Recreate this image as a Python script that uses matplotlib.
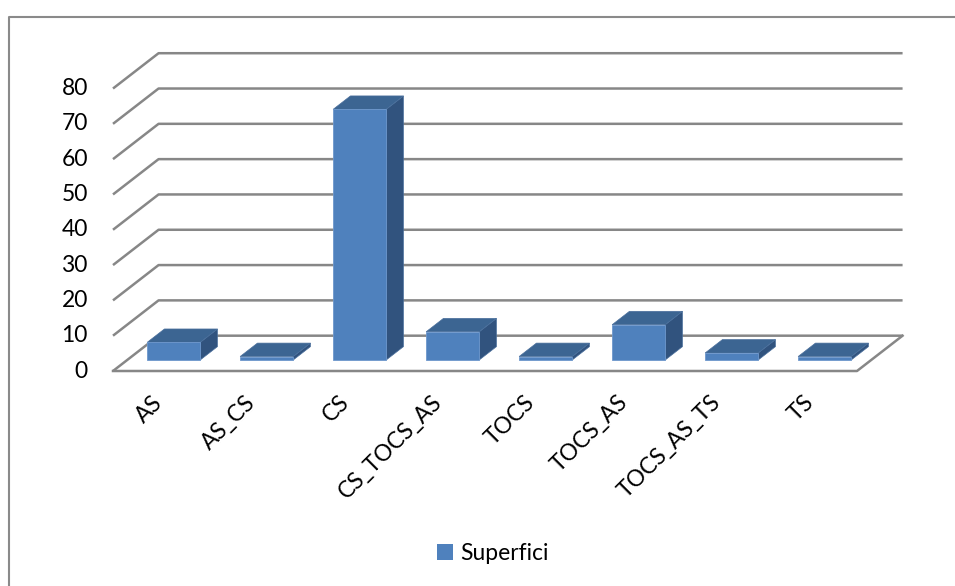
import matplotlib.pyplot as plt
from matplotlib.patches import Polygon, Patch
from matplotlib.lines import Line2D

plt.rcParams['font.family'] = ['Lato', 'DejaVu Sans']

# data
categories = ['AS', 'AS_CS', 'CS', 'CS_TOCS_AS', 'TOCS', 'TOCS_AS', 'TOCS_AS_TS', 'TS']
superfici = [5, 1, 71, 8, 1, 10, 2, 1]
yticks = [0, 10, 20, 30, 40, 50, 60, 70, 80]

# fake 3d: depth shifts x by DX categories and y by DY value units
DX = 0.49
DY = 10.0
n = len(categories)

c_front = '#4F81BD'
c_top = '#3C6592'
c_side = '#31537E'
c_grid = '#878787'


def proj(x, v, d):
    return (x + d * DX, v + d * DY)


fig = plt.figure(figsize=(9.55, 5.86), dpi=100)
ax = fig.add_axes([0, 0, 1, 1])
# 1 category = 93 px, 1 unit = 3.53 px, origin (front floor left) at px (113, 371)
ax.set_xlim(-113 / 93, (955 - 113) / 93)
ax.set_ylim(-(586 - 371) / 3.531, 371 / 3.531)
ax.axis('off')

# chart border (only left and top edges fall inside the picture)
bx, by = 8.5 / 955, 1 - 16.5 / 586
fig.lines.append(Line2D([bx, bx, 1.0], [0.0, by, by], transform=fig.transFigure,
                        color='#8a8a8a', lw=1.5))

# walls / gridlines
for v in yticks:
    x0, y0 = proj(0, v, 0)
    x1, y1 = proj(0, v, 1)
    x2, y2 = proj(n, v, 1)
    ax.plot([x0, x1, x2], [y0, y1, y2], color=c_grid, lw=1.8, zorder=1,
            solid_capstyle='butt')
    ax.text(x0 - 0.27, v, str(v), ha='right', va='center', fontsize=16.5)

# floor
fx = [proj(0, 0, 0)[0], proj(n, 0, 0)[0], proj(n, 0, 1)[0]]
fy = [proj(0, 0, 0)[1], proj(n, 0, 0)[1], proj(n, 0, 1)[1]]
ax.plot(fx, fy, color=c_grid, lw=1.8, zorder=1)

# bars
w0, w1 = 0.215, 0.785
d0, d1 = 0.31, 0.69
for i, val in enumerate(superfici):
    xa, xb = i + w0, i + w1
    front = [proj(xa, 0, d0), proj(xb, 0, d0), proj(xb, val, d0), proj(xa, val, d0)]
    top = [proj(xa, val, d0), proj(xb, val, d0), proj(xb, val, d1), proj(xa, val, d1)]
    side = [proj(xb, 0, d0), proj(xb, 0, d1), proj(xb, val, d1), proj(xb, val, d0)]
    ax.add_patch(Polygon(side, closed=True, facecolor=c_side, edgecolor='#4a6f9c',
                         lw=0.5, zorder=3))
    ax.add_patch(Polygon(top, closed=True, facecolor=c_top, edgecolor='#4a6f9c',
                         lw=0.5, zorder=3))
    ax.add_patch(Polygon(front, closed=True, facecolor=c_front, edgecolor='#6d97cc',
                         lw=0.6, zorder=4))
    ax.text(i + 0.5, -8, categories[i], rotation=45, rotation_mode='anchor',
            ha='right', va='center', fontsize=16.5)

ax.legend(handles=[Patch(facecolor=c_front, label='Superfici')],
          loc='center', bbox_to_anchor=(0.516, 0.056), bbox_transform=fig.transFigure,
          frameon=False, fontsize=16.5, handlelength=0.7, handleheight=0.7,
          handletextpad=0.3)

fig.savefig('out.png', dpi=100)
